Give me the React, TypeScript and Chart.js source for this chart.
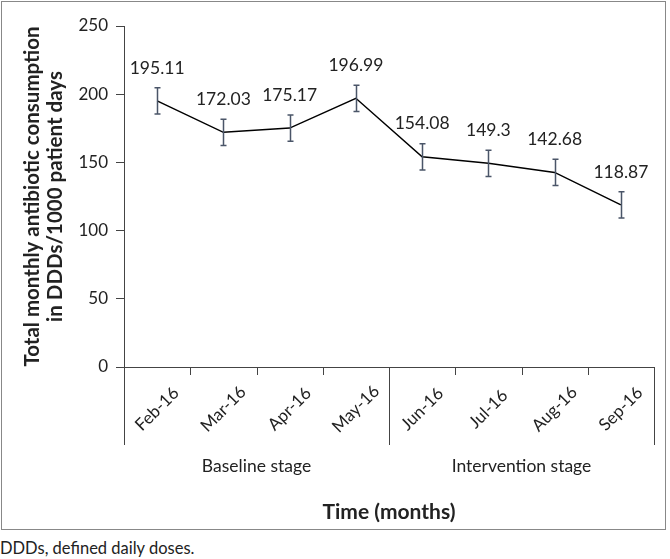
import React, { useEffect, useRef } from "react";
import { Chart, registerables } from "chart.js";

Chart.register(...registerables);

const months = ["Feb-16", "Mar-16", "Apr-16", "May-16", "Jun-16", "Jul-16", "Aug-16", "Sep-16"];
const consumption = [195.11, 172.03, 175.17, 196.99, 154.08, 149.3, 142.68, 118.87];
const errorMargins = [9.6, 9.6, 9.6, 9.6, 9.6, 9.6, 9.6, 9.6];
const valueLabels = ["195.11", "172.03", "175.17", "196.99", "154.08", "149.3", "142.68", "118.87"];
const yMin = 0;
const yMax = 250;
const yStep = 50;
const stageNames = ["Baseline stage", "Intervention stage"];
const stageStarts = [0, 4];
const stageEnds = [4, 8];
const yTitleLines = ["Total monthly antibiotic consumption", "in DDDs/1000 patient days"];
const xTitle = "Time (months)";
const footnote = "DDDs, defined daily doses.";

const FONT = "Lato, 'Open Sans', sans-serif";
const TEXT = "#222";
const AXIS = "#444";
const ERR = "#4a5568";

const overlayPlugin = {
  id: "overlay",
  afterDatasetsDraw(chart: any) {
    const { ctx, chartArea, scales } = chart;
    const { left, right, top, bottom } = chartArea;
    const x = scales.x;
    const y = scales.y;
    const n = months.length;
    const cw = (right - left) / n;
    ctx.save();

    // error bars
    ctx.strokeStyle = ERR;
    ctx.lineWidth = 1.5;
    consumption.forEach((v, i) => {
      const px = Math.round(x.getPixelForValue(i)) + 0.5;
      const yt = y.getPixelForValue(v + errorMargins[i]);
      const yb = y.getPixelForValue(v - errorMargins[i]);
      ctx.beginPath();
      ctx.moveTo(px, yt);
      ctx.lineTo(px, yb);
      ctx.moveTo(px - 3, yt);
      ctx.lineTo(px + 3, yt);
      ctx.moveTo(px - 3, yb);
      ctx.lineTo(px + 3, yb);
      ctx.stroke();
    });

    // value labels
    ctx.fillStyle = TEXT;
    ctx.font = `17.5px ${FONT}`;
    ctx.textAlign = "center";
    ctx.textBaseline = "middle";
    consumption.forEach((v, i) => {
      ctx.fillText(valueLabels[i], x.getPixelForValue(i), y.getPixelForValue(v) - 33);
    });

    // x axis ticks (category boundaries)
    const boundaries = new Set<number>([...stageStarts, ...stageEnds]);
    ctx.strokeStyle = AXIS;
    ctx.lineWidth = 1;
    for (let i = 0; i <= n; i++) {
      const bx = Math.round(left + i * cw) + 0.5;
      const len = boundaries.has(i) ? 78 : 8;
      ctx.beginPath();
      ctx.moveTo(bx, bottom);
      ctx.lineTo(bx, bottom + len);
      ctx.stroke();
    }

    // x tick labels, rotated
    ctx.font = `17px ${FONT}`;
    ctx.fillStyle = TEXT;
    months.forEach((m, i) => {
      ctx.save();
      ctx.translate(x.getPixelForValue(i), bottom + 42);
      ctx.rotate(-Math.PI / 4);
      ctx.fillText(m, 0, 0);
      ctx.restore();
    });

    // stage labels
    ctx.font = `17.5px ${FONT}`;
    stageNames.forEach((s, k) => {
      const cx = left + ((stageStarts[k] + stageEnds[k]) / 2) * cw;
      ctx.fillText(s, cx, bottom + 99);
    });

    // x title
    ctx.font = `bold 21px ${FONT}`;
    ctx.fillText(xTitle, (left + right) / 2, bottom + 145);

    // y title
    ctx.font = `bold 20.5px ${FONT}`;
    ctx.save();
    ctx.translate(32, (top + bottom) / 2);
    ctx.rotate(-Math.PI / 2);
    ctx.fillText(yTitleLines[0], 0, 0);
    ctx.fillText(yTitleLines[1], 0, 23);
    ctx.restore();

    ctx.restore();
  },
};

export default function App() {
  const ref = useRef<HTMLCanvasElement | null>(null);
  useEffect(() => {
    if (!ref.current) return;
    const chart = new Chart(ref.current, {
      type: "line",
      data: {
        labels: months,
        datasets: [
          {
            data: consumption,
            borderColor: "#000",
            borderWidth: 1.5,
            pointRadius: 0,
            tension: 0,
            fill: false,
          },
        ],
      },
      options: {
        responsive: false,
        animation: false,
        devicePixelRatio: 1,
        layout: { padding: { top: 26, right: 16, left: 0, bottom: 0 } },
        plugins: { legend: { display: false }, tooltip: { enabled: false } },
        scales: {
          x: {
            type: "category",
            offset: true,
            grid: { display: false },
            border: { display: true, color: AXIS, width: 1 },
            ticks: { display: false },
            afterFit: (s: any) => {
              s.height = 164;
            },
          },
          y: {
            min: yMin,
            max: yMax,
            ticks: {
              stepSize: yStep,
              color: TEXT,
              font: { family: FONT, size: 17 },
              padding: 8,
            },
            grid: { drawOnChartArea: false, drawTicks: true, tickLength: 8, color: AXIS },
            border: { display: true, color: AXIS, width: 1 },
            afterFit: (s: any) => {
              s.width = 124;
            },
          },
        },
      },
      plugins: [overlayPlugin],
    });
    return () => chart.destroy();
  }, []);

  return (
    <div style={{ position: "absolute", left: 0, top: 0, width: 670, height: 559, background: "#fff" }}>
      <canvas ref={ref} width={670} height={531} style={{ position: "absolute", left: 0, top: 0 }} />
      <div
        style={{
          position: "absolute",
          left: 1,
          top: 1,
          width: 665,
          height: 529,
          boxSizing: "border-box",
          border: "1.5px solid #888",
          pointerEvents: "none",
        }}
      />
      <div
        style={{
          position: "absolute",
          left: 0,
          top: 538,
          fontFamily: FONT,
          fontSize: 16.5,
          lineHeight: "20px",
          color: TEXT,
          whiteSpace: "nowrap",
        }}
      >
        {footnote}
      </div>
    </div>
  );
}
